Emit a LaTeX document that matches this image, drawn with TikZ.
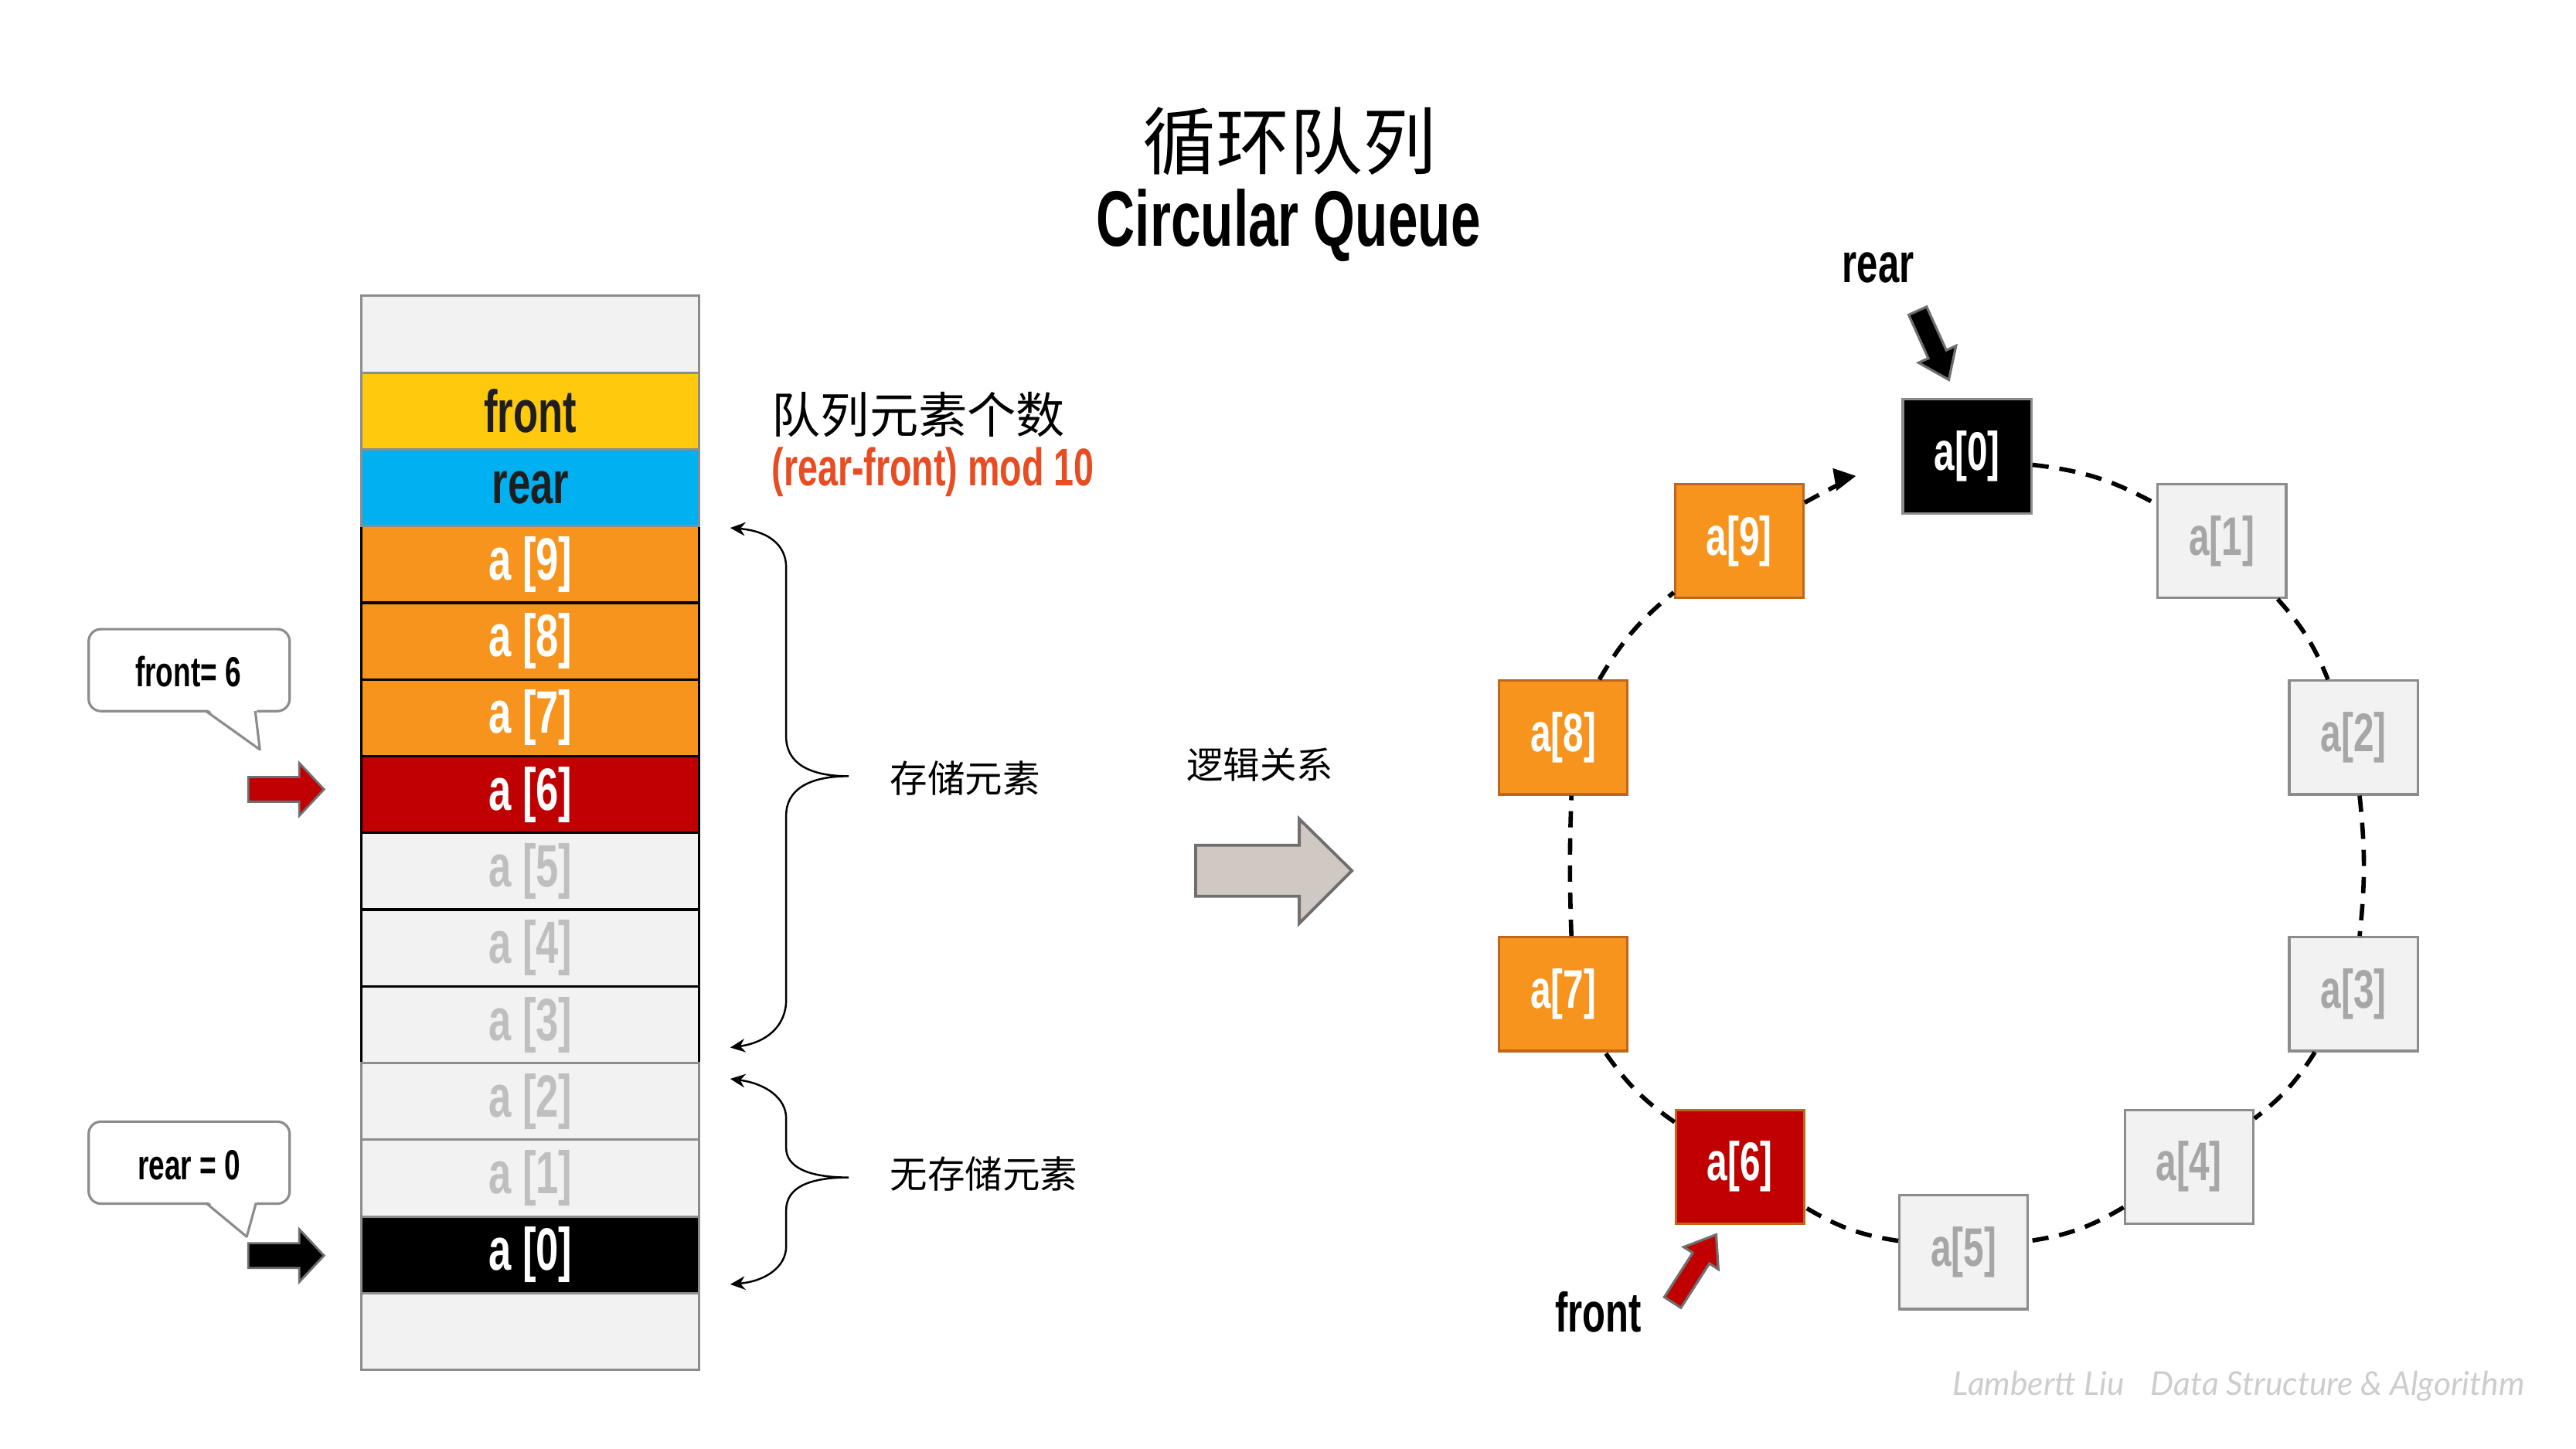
\documentclass[tikz,border=0pt]{standalone}
\usepackage{fontspec}
\setmainfont{Liberation Sans}
\newfontfamily\agency[FakeStretch=0.68]{Liberation Sans}
\newfontfamily\cjk{Noto Sans CJK SC}
\newfontfamily\footfont{Lato}
\usetikzlibrary{arrows.meta}
\definecolor{cfront}{HTML}{FFC90E}
\definecolor{crear}{HTML}{00B0F0}
\definecolor{corange}{HTML}{F7941D}
\definecolor{corangeline}{HTML}{C0651A}
\definecolor{cred}{HTML}{C00000}
\definecolor{clight}{HTML}{F2F2F2}
\definecolor{cgrayline}{HTML}{8C8C8C}
\definecolor{cgraytxt}{HTML}{BFBFBF}
\definecolor{cringtxt}{HTML}{A6A6A6}
\definecolor{cdark}{HTML}{1E1E1E}
\definecolor{cformula}{HTML}{E84C22}
\definecolor{carrowfill}{HTML}{D0C8C3}
\definecolor{carrowline}{HTML}{6F6F6F}
\definecolor{cfoot}{HTML}{CDCDCD}
\begin{document}
\begin{tikzpicture}[x=0.02128cm,y=-0.02128cm,
  cellg/.style={draw=cgrayline, line width=0.9pt, fill=clight, minimum width=124.4pt, minimum height=28.3pt, inner sep=0pt, font=\agency\bfseries\fontsize{22}{24}\selectfont},
  cellb/.style={cellg, draw=black},
  rbox/.style={draw=cgrayline, line width=0.9pt, fill=clight, text=cringtxt, minimum width=47.3pt, minimum height=41.9pt, inner sep=0pt, font=\agency\bfseries\fontsize{20}{22}\selectfont},
  robox/.style={rbox, fill=corange, draw=corangeline, text=white},
  ring/.style={line width=1.6pt, dash pattern=on 6pt off 4pt},
  bubble/.style={draw=cgrayline, line width=0.9pt, fill=white, rounded corners=4.5pt, minimum width=74pt, minimum height=30.2pt, inner sep=0pt},
  lbl/.style={inner sep=0pt, font=\agency\bfseries\fontsize{20.5}{22}\selectfont},
  cjklbl/.style={inner sep=0pt, font=\cjk\fontsize{13.8}{16}\selectfont, anchor=west},
  brace/.style={line width=0.7pt, {Stealth[length=5.5pt,width=5pt]}-{Stealth[length=5.5pt,width=5pt]}},
  blk/.style={line width=0.8pt, draw=carrowline}
]
\useasboundingbox (0,0) rectangle (1566.3,881.1);
\fill[white] (0,0) rectangle (1566.3,881.1);

% title
\node[inner sep=0pt, font=\cjk\fontsize{27}{30}\selectfont] (t1) at (784,86) {循环队列};
\node[inner sep=0pt, font=\agency\bfseries\fontsize{29}{32}\selectfont] (t2) at (783.5,137) {Circular Queue};

% column: black-bordered cells first
\node[cellb, fill=corange, text=white] (c3) at (322.5,343.25) {a [9]};
\node[cellb, fill=corange, text=white] (c4) at (322.5,389.9) {a [8]};
\node[cellb, fill=corange, text=white] (c5) at (322.5,436.55) {a [7]};
\node[cellb, fill=cred, text=white] (c6) at (322.5,483.2) {a [6]};
\node[cellb, text=cgraytxt] (c7) at (322.5,529.85) {a [5]};
\node[cellb, text=cgraytxt] (c8) at (322.5,576.5) {a [4]};
\node[cellb, text=cgraytxt] (c9) at (322.5,623.15) {a [3]};
% gray-bordered cells
\node[cellg] (c0) at (322.5,203.3) {};
\node[cellg, fill=cfront, text=cdark] (c1) at (322.5,249.95) {front};
\node[cellg, fill=crear, text=cdark] (c2) at (322.5,296.6) {rear};
\node[cellg, text=cgraytxt] (c10) at (322.5,669.8) {a [2]};
\node[cellg, text=cgraytxt] (c11) at (322.5,716.45) {a [1]};
\node[cellg, fill=black, text=white] (c12) at (322.5,763.1) {a [0]};
\node[cellg] (c13) at (322.5,809.75) {};

% count label
\node[inner sep=0pt, anchor=west, font=\cjk\fontsize{18}{20}\selectfont] (cnt) at (469,252) {队列元素个数};
\node[inner sep=0pt, anchor=west, text=cformula, font=\agency\bfseries\fontsize{19.5}{22}\selectfont] (fml) at (469,287) {(rear-front) mod 10};

% braces
\coordinate (b1a) at (444,321);
\coordinate (b1b) at (444,637);
\coordinate (b1t) at (516,472);
\draw[brace] (b1a) .. controls (468,323) and (478,332) .. (478,345) -- (478,448) .. controls (478,464) and (492,472) .. (b1t) .. controls (492,472) and (478,480) .. (478,496) -- (478,608) .. controls (478,624) and (466,634) .. (b1b);
\node[cjklbl] (l1) at (541,473) {存储元素};
\coordinate (b2a) at (444,656);
\coordinate (b2b) at (444,781);
\coordinate (b2t) at (516,716);
\draw[brace] (b2a) .. controls (466,659) and (478,668) .. (478,680) -- (478,698) .. controls (478,710) and (492,716) .. (b2t) .. controls (492,716) and (478,722) .. (478,736) -- (478,758) .. controls (478,770) and (466,779) .. (b2b);
\node[cjklbl] (l2) at (541,714) {无存储元素};

% bubbles
\node[bubble] (bf) at (115,407.5) {};
\fill[white] (124.5,430) -- (158,455.8) -- (156,430) -- cycle;
\draw[cgrayline, line width=0.9pt, line join=round] (125.2,432.4) -- (158,455.8) -- (155.2,432.4);
\node[inner sep=0pt, font=\agency\bfseries\fontsize{15.5}{17}\selectfont] (bft) at (114.5,408.5) {front= 6};

\node[bubble] (br) at (115,707) {};
\fill[white] (124.5,729) -- (150,752) -- (156.5,729) -- cycle;
\draw[cgrayline, line width=0.9pt, line join=round] (125.2,731.5) -- (150,752) -- (155.7,731.5);
\node[inner sep=0pt, font=\agency\bfseries\fontsize{15.5}{17}\selectfont] (brt) at (115,708.5) {rear = 0};

% side block arrows
\draw[blk, fill=cred] (151,472.5) -- (182,472.5) -- (182,464) -- (197,480) -- (182,496) -- (182,487.5) -- (151,487.5) -- cycle;
\draw[blk, fill=black] (151,756) -- (182,756) -- (182,747.5) -- (197,763.5) -- (182,779.5) -- (182,771) -- (151,771) -- cycle;

% middle arrow
\node[inner sep=0pt, font=\cjk\fontsize{13.5}{16}\selectfont] (logic) at (766,465) {逻辑关系};
\draw[line width=1.1pt, draw=carrowline, fill=carrowfill] (727,514) -- (790,514) -- (790,498) -- (822,529.5) -- (790,561.5) -- (790,545) -- (727,545) -- cycle;

% ring
\node[rbox, fill=black, draw=cgrayline, text=white] (r0) at (1196,277.5) {a[0]};
\node[rbox] (r1) at (1351,329) {a[1]};
\node[rbox] (r2) at (1431,448.5) {a[2]};
\node[rbox] (r3) at (1431,604.5) {a[3]};
\node[rbox] (r4) at (1331,709.5) {a[4]};
\node[rbox] (r5) at (1194,761.5) {a[5]};
\node[robox, fill=cred] (r6) at (1058,709.5) {a[6]};
\node[robox] (r7) at (950.5,604.5) {a[7]};
\node[robox] (r8) at (950.5,448.5) {a[8]};
\node[robox] (r9) at (1057.5,329) {a[9]};

\draw[ring] (r0) to[bend left=11] (r1);
\draw[ring] (r1) to[bend left=10] (r2);
\draw[ring] (r2) to[bend left=6] (r3);
\draw[ring] (r3) to[bend left=10] (r4);
\draw[ring] (r4) to[bend left=11] (r5);
\draw[ring] (r5) to[bend left=11] (r6);
\draw[ring] (r6) to[bend left=10] (r7);
\draw[ring] ([xshift=3pt]r7.north) to[bend left=2] ([xshift=3pt]r8.south);
\draw[ring] (r8) to[bend left=10] (r9);
\draw[ring, -{Triangle[length=8pt,width=8pt]}, shorten >=17pt] (r9) to[bend left=10] (r0);

% ring pointers
\node[lbl] (rearl) at (1142,163) {rear};
\begin{scope}[shift={(1166,189)}, rotate=-65.7]
\draw[line width=0.9pt, draw=carrowline, fill=black] (0,-6) -- (29,-6) -- (29,-12.5) -- (46,0) -- (29,12.5) -- (29,6) -- (0,6) -- cycle;
\end{scope}
\node[lbl] (frontl) at (972,798) {front};
\begin{scope}[shift={(1017,792)}, rotate=57.3]
\draw[line width=0.9pt, draw=carrowline, fill=cred] (0,-6) -- (32,-6) -- (32,-12.5) -- (49,0) -- (32,12.5) -- (32,6) -- (0,6) -- cycle;
\end{scope}

% footer
\node[anchor=west, inner sep=0pt, text=cfoot, font=\footfont\itshape\fontsize{12.1}{14}\selectfont] (foot) at (1187,843) {Lambertt Liu\hspace{0.8em}Data Structure \& Algorithm};
\end{tikzpicture}
\end{document}
